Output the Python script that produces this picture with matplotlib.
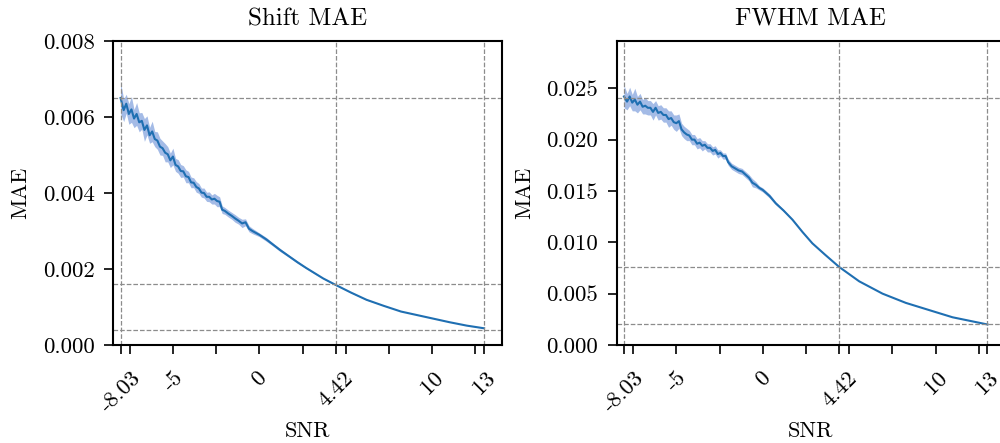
import numpy as np
import matplotlib
matplotlib.use("Agg")
import matplotlib.pyplot as plt

###
# DATA
###
shift_snr = [-8.03, -7.85, -7.7, -7.55, -7.4, -7.25, -7.1, -6.95, -6.8, -6.65,
             -6.5, -6.35, -6.2, -6.05, -5.9, -5.75, -5.6, -5.45, -5.3, -5.15,
             -5.0, -4.85, -4.7, -4.55, -4.4, -4.25, -4.1, -3.95, -3.8, -3.65,
             -3.5, -3.35, -3.2, -3.05, -2.9, -2.75, -2.6, -2.45, -2.3, -2.15,
             -2.0, -1.8, -1.6, -1.4, -1.2, -1.0, -0.8, -0.6, -0.4, -0.2,
             0.0, 0.4, 0.8, 1.2, 1.7, 2.2, 2.7, 3.2, 3.7, 4.42,
             5.3, 6.2, 7.2, 8.2, 9.6, 11.0, 12.0, 13.0]
shift_mae = [0.00650, 0.00618, 0.00635, 0.00608, 0.00620, 0.00596, 0.00608, 0.00586, 0.00590, 0.00566,
             0.00578, 0.00552, 0.00562, 0.00542, 0.00538, 0.00522, 0.00518, 0.00506, 0.00502, 0.00486,
             0.00496, 0.00474, 0.00470, 0.00458, 0.00457, 0.00444, 0.00442, 0.00428, 0.00427, 0.00416,
             0.00412, 0.00401, 0.00400, 0.00390, 0.00390, 0.00383, 0.00385, 0.00379, 0.00377, 0.00356,
             0.00353, 0.00346, 0.00340, 0.00333, 0.00327, 0.00320, 0.00323, 0.00306, 0.00300, 0.00295,
             0.00290, 0.00278, 0.00264, 0.00250, 0.00234, 0.00218, 0.00203, 0.00189, 0.00175, 0.00158,
             0.00138, 0.00119, 0.00103, 0.00088, 0.00074, 0.00060, 0.00051, 0.00044]
shift_err = [0.00040, 0.00030, 0.00025, 0.00027, 0.00034, 0.00024, 0.00030, 0.00025, 0.00022, 0.00030,
             0.00025, 0.00021, 0.00027, 0.00020, 0.00023, 0.00022, 0.00019, 0.00024, 0.00020, 0.00019,
             0.00022, 0.00017, 0.00018, 0.00017, 0.00015, 0.00017, 0.00015, 0.00014, 0.00013, 0.00014,
             0.00013, 0.00012, 0.00013, 0.00012, 0.00013, 0.00012, 0.00014, 0.00015, 0.00013, 0.00010,
             0.00009, 0.00009, 0.00009, 0.00010, 0.00009, 0.00011, 0.00009, 0.00008, 0.00007, 0.00006,
             0.00005, 0.00005, 0.00004, 0.00004, 0.00003, 0.00003, 0.00002, 0.00002, 0.00001, 0.00001,
             0.00001, 0.00001, 0.0, 0.0, 0.0, 0.0, 0.0, 0.0]

fwhm_snr = [-8.03, -7.85, -7.7, -7.55, -7.4, -7.25, -7.1, -6.95, -6.8, -6.65,
            -6.5, -6.35, -6.2, -6.05, -5.9, -5.75, -5.6, -5.45, -5.3, -5.15,
            -5.0, -4.85, -4.7, -4.55, -4.4, -4.25, -4.1, -3.95, -3.8, -3.65,
            -3.5, -3.35, -3.2, -3.05, -2.9, -2.75, -2.6, -2.45, -2.3, -2.15,
            -2.0, -1.8, -1.6, -1.4, -1.2, -1.0, -0.8, -0.6, -0.4, -0.2,
            0.0, 0.4, 0.75, 1.2, 1.72, 2.3, 2.87, 3.6, 4.42, 5.58,
            6.93, 8.28, 9.82, 10.98, 13.0]
fwhm_mae = [0.0242, 0.0237, 0.0242, 0.0236, 0.0239, 0.0234, 0.0237, 0.0232, 0.0233, 0.0231,
            0.0231, 0.0227, 0.0231, 0.0226, 0.0227, 0.0224, 0.0224, 0.0220, 0.0221, 0.0217,
            0.0216, 0.0218, 0.0210, 0.0207, 0.0205, 0.0204, 0.0200, 0.0200, 0.0196, 0.0197,
            0.0194, 0.0195, 0.0192, 0.0192, 0.0189, 0.0190, 0.0186, 0.0187, 0.0184, 0.0184,
            0.0178, 0.0174, 0.0172, 0.0170, 0.0169, 0.0166, 0.0163, 0.0158, 0.0156, 0.0153,
            0.0151, 0.0145, 0.0138, 0.0131, 0.0122, 0.0110, 0.0099, 0.0088, 0.0076, 0.0062,
            0.0050, 0.0041, 0.0033, 0.0027, 0.0020]
fwhm_err = [0.0011, 0.0008, 0.0009, 0.0008, 0.0011, 0.0008, 0.0008, 0.0007, 0.0008, 0.0007,
            0.0007, 0.0008, 0.0007, 0.0007, 0.0007, 0.0007, 0.0007, 0.0008, 0.0007, 0.0007,
            0.0008, 0.0007, 0.0006, 0.0006, 0.0006, 0.0005, 0.0005, 0.0005, 0.0005, 0.0005,
            0.0005, 0.0004, 0.0004, 0.0004, 0.0004, 0.0004, 0.0004, 0.0003, 0.0003, 0.0003,
            0.0003, 0.0003, 0.0003, 0.0003, 0.0003, 0.0003, 0.0003, 0.0004, 0.0003, 0.0002,
            0.0002, 0.0002, 0.00015, 0.0001, 0.00007, 0.00005, 0.00003, 0.0, 0.0, 0.0,
            0.0, 0.0, 0.0, 0.0, 0.0]

# reference levels: value at the lowest SNR, at 4.42 dB and at 13 dB
shift_hlines = [0.0065, 0.0016, 0.0004]
fwhm_hlines = [0.0241, 0.0076, 0.0020]
snr_vlines = [-8.03, 4.42, 13]

xtick_pos = [-8.03, -7.5, -5, -2.5, 0, 2.5, 4.42, 5, 7.5, 10, 12.5, 13]
xtick_lab = ["-8.03", "", "-5", "", "0", "", "4.42", "", "", "10", "", "13"]

###
# STYLE
###
plt.rcParams["font.family"] = ["cmr10", "DejaVu Serif"]
plt.rcParams["mathtext.fontset"] = "cm"
plt.rcParams["axes.formatter.use_mathtext"] = True
plt.rcParams["axes.unicode_minus"] = False

###
# PLOT
###
fig = plt.figure(figsize=(10, 4.43), dpi=100)
ax1 = fig.add_axes([0.1133, 0.2212, 0.3884, 0.6862])
ax2 = fig.add_axes([0.6167, 0.2212, 0.3884, 0.6862])

panels = [
    (ax1, "Shift MAE", shift_snr, shift_mae, shift_err, shift_hlines, (0, 0.008), np.arange(0, 0.0081, 0.002)),
    (ax2, "FWHM MAE", fwhm_snr, fwhm_mae, fwhm_err, fwhm_hlines, (0, 0.0296), np.arange(0, 0.0251, 0.005)),
]

for ax, title, x, y, err, hl, ylim, yt in panels:
    x = np.array(x)
    y = np.array(y)
    err = np.array(err)
    ax.fill_between(x, y - err, y + err, color="#4a78cf", alpha=0.5, lw=0)
    ax.plot(x, y, color="#1f6fb2", lw=1.5)
    for h in hl:
        ax.axhline(h, color="#8c8c8c", ls="--", lw=0.9)
    for v in snr_vlines:
        ax.axvline(v, color="#8c8c8c", ls="--", lw=0.9)

    ax.set_xlim(-8.45, 14.02)
    ax.set_ylim(*ylim)
    ax.set_yticks(yt)
    ax.set_yticklabels([f"{t:.3f}" for t in yt])
    ax.set_xticks(xtick_pos)
    ax.set_xticklabels(xtick_lab, rotation=45, ha="center")

    ax.tick_params(direction="out", length=6.5, width=1.2, labelsize=16.5, pad=7)
    ax.tick_params(axis="x", pad=10)
    for s in ax.spines.values():
        s.set_linewidth(1.5)

    ax.set_title(title, fontsize=18, pad=11)
    ax.set_xlabel("SNR", fontsize=16, labelpad=4)
    ax.set_ylabel("MAE", fontsize=16, labelpad=9)

fig.savefig("out.png", dpi=100)
